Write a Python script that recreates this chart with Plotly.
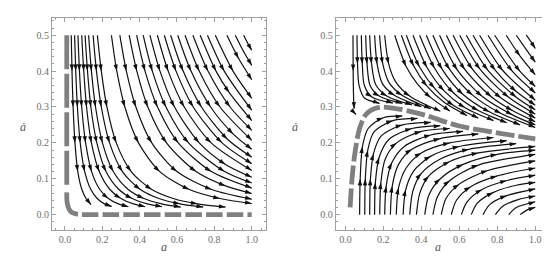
import math
import plotly.graph_objects as go

# ─── Daten: Stromlinien als Stützpunkte (a, ȧ), aus dem Bild geschätzt ─────────

# linkes Bild – dichte Gruppe links (fast senkrecht, endet unten)
LEFT_DENSE = [
    [(0.034, 0.5), (0.038, 0.4), (0.044, 0.3), (0.054, 0.2), (0.069, 0.12), (0.091, 0.07), (0.113, 0.045), (0.14, 0.028)],
    [(0.052, 0.5), (0.058, 0.4), (0.067, 0.3), (0.082, 0.2), (0.106, 0.12), (0.139, 0.07), (0.173, 0.045), (0.212, 0.03), (0.25, 0.023)],
    [(0.070, 0.5), (0.078, 0.4), (0.090, 0.3), (0.111, 0.2), (0.143, 0.12), (0.187, 0.07), (0.233, 0.045), (0.286, 0.03), (0.34, 0.022)],
    [(0.090, 0.5), (0.101, 0.4), (0.116, 0.3), (0.142, 0.2), (0.184, 0.12), (0.241, 0.07), (0.300, 0.045), (0.367, 0.03), (0.43, 0.022)],
    [(0.108, 0.5), (0.121, 0.4), (0.139, 0.3), (0.171, 0.2), (0.220, 0.12), (0.289, 0.07), (0.360, 0.045), (0.441, 0.03), (0.52, 0.022)],
    [(0.127, 0.5), (0.142, 0.4), (0.164, 0.3), (0.201, 0.2), (0.259, 0.12), (0.339, 0.07), (0.423, 0.045), (0.518, 0.03), (0.62, 0.021)],
    [(0.151, 0.5), (0.169, 0.4), (0.195, 0.3), (0.239, 0.2), (0.308, 0.12), (0.404, 0.07), (0.503, 0.045), (0.616, 0.03), (0.74, 0.021)],
    [(0.174, 0.5), (0.195, 0.4), (0.225, 0.3), (0.275, 0.2), (0.355, 0.12), (0.465, 0.07), (0.580, 0.045), (0.710, 0.03), (0.86, 0.021)],
]

# linkes Bild – Fächer, der am rechten Rand endet
LEFT_FAN = [
    [(0.249, 0.5), (0.278, 0.4), (0.321, 0.3), (0.394, 0.2), (0.508, 0.12), (0.666, 0.07), (0.830, 0.045), (1.0, 0.031)],
    [(0.294, 0.5), (0.329, 0.4), (0.380, 0.3), (0.465, 0.2), (0.600, 0.12), (0.786, 0.07), (1.0, 0.043)],
    [(0.344, 0.5), (0.385, 0.4), (0.444, 0.3), (0.544, 0.2), (0.702, 0.12), (0.860, 0.08), (1.0, 0.059)],
    [(0.384, 0.5), (0.429, 0.4), (0.496, 0.3), (0.607, 0.2), (0.784, 0.12), (1.0, 0.074)],
    [(0.419, 0.5), (0.468, 0.4), (0.541, 0.3), (0.662, 0.2), (0.855, 0.12), (1.0, 0.088)],
    [(0.455, 0.5), (0.509, 0.4), (0.587, 0.3), (0.719, 0.2), (0.860, 0.14), (1.0, 0.104)],
    [(0.495, 0.5), (0.553, 0.4), (0.639, 0.3), (0.783, 0.2), (1.0, 0.123)],
    [(0.532, 0.5), (0.595, 0.4), (0.687, 0.3), (0.841, 0.2), (1.0, 0.142)],
    [(0.566, 0.5), (0.633, 0.4), (0.731, 0.3), (0.870, 0.21), (1.0, 0.160)],
    [(0.604, 0.5), (0.675, 0.4), (0.780, 0.3), (0.900, 0.225), (1.0, 0.182)],
    [(0.643, 0.5), (0.719, 0.4), (0.830, 0.3), (1.0, 0.207)],
    [(0.685, 0.5), (0.766, 0.4), (0.884, 0.3), (1.0, 0.235)],
    [(0.724, 0.5), (0.809, 0.4), (0.880, 0.34), (1.0, 0.262)],
    [(0.763, 0.5), (0.853, 0.4), (1.0, 0.291)],
    [(0.805, 0.5), (0.900, 0.4), (1.0, 0.324)],
    [(0.867, 0.5), (0.930, 0.435), (1.0, 0.376)],
    [(0.912, 0.5), (0.955, 0.456), (1.0, 0.416)],
    [(0.957, 0.5), (0.978, 0.478), (1.0, 0.458)],
]

# linkes Bild – graue Separatrix (a = 0 abwärts, dann ȧ = 0 nach rechts)
LEFT_SEP_DOWN = [(0.01, 0.5), (0.01, 0.075)]
LEFT_SEP_BEND = [(0.01, 0.062), (0.014, 0.028), (0.032, 0.008), (0.07, 0.001)]
LEFT_SEP_RIGHT = [(0.091, 0.0), (1.0, 0.0)]

# rechtes Bild – Linien von oben
RIGHT_UPPER = [
    [(0.040, 0.5), (0.041, 0.4), (0.043, 0.33), (0.046, 0.295)],
    [(0.061, 0.5), (0.064, 0.420), (0.072, 0.360), (0.100, 0.325), (0.180, 0.310)],
    [(0.084, 0.5), (0.089, 0.420), (0.100, 0.360), (0.140, 0.328), (0.250, 0.311)],
    [(0.107, 0.5), (0.114, 0.420), (0.130, 0.360), (0.180, 0.330), (0.300, 0.310)],
    [(0.128, 0.5), (0.138, 0.420), (0.160, 0.362), (0.220, 0.330), (0.350, 0.306)],
    [(0.154, 0.5), (0.167, 0.420), (0.195, 0.365), (0.260, 0.332), (0.400, 0.301)],
    [(0.180, 0.5), (0.197, 0.420), (0.230, 0.368), (0.300, 0.332), (0.450, 0.295)],
    [(0.207, 0.5), (0.228, 0.420), (0.265, 0.370), (0.340, 0.330), (0.500, 0.288)],
    [(0.260, 0.5), (0.320, 0.413), (0.380, 0.364), (0.450, 0.326), (0.550, 0.289)],
    [(0.295, 0.5), (0.360, 0.414), (0.430, 0.358), (0.520, 0.313), (0.640, 0.276)],
    [(0.321, 0.5), (0.390, 0.412), (0.470, 0.352), (0.570, 0.304), (0.700, 0.269)],
    [(0.356, 0.5), (0.430, 0.410), (0.520, 0.345), (0.630, 0.298), (0.780, 0.262)],
    [(0.391, 0.5), (0.470, 0.408), (0.570, 0.339), (0.700, 0.290), (0.850, 0.256)],
    [(0.426, 0.5), (0.510, 0.405), (0.620, 0.335), (0.760, 0.286), (0.920, 0.250)],
    [(0.461, 0.5), (0.550, 0.404), (0.670, 0.333), (0.820, 0.282), (1.0, 0.243)],
    [(0.496, 0.5), (0.590, 0.403), (0.720, 0.330), (0.880, 0.278), (1.0, 0.250)],
    [(0.532, 0.5), (0.630, 0.404), (0.770, 0.328), (0.880, 0.290), (1.0, 0.259)],
    [(0.567, 0.5), (0.670, 0.405), (0.820, 0.325), (1.0, 0.269)],
    [(0.602, 0.5), (0.710, 0.405), (0.860, 0.327), (1.0, 0.280)],
    [(0.637, 0.5), (0.750, 0.403), (0.900, 0.327), (1.0, 0.292)],
    [(0.672, 0.5), (0.790, 0.402), (0.900, 0.343), (1.0, 0.305)],
    [(0.707, 0.5), (0.830, 0.401), (1.0, 0.319)],
    [(0.751, 0.5), (0.880, 0.399), (1.0, 0.339)],
    [(0.786, 0.5), (0.920, 0.399), (1.0, 0.357)],
    [(0.847, 0.5), (0.920, 0.442), (1.0, 0.390)],
    [(0.900, 0.5), (0.950, 0.462), (1.0, 0.425)],
    [(0.953, 0.5), (0.977, 0.482), (1.0, 0.463)],
]

# rechtes Bild – kleiner Haken am Sattel
RIGHT_HOOK = [[(0.035, 0.292), (0.045, 0.285), (0.056, 0.279)]]

# rechtes Bild – Linien von unten
RIGHT_LOWER = [
    [(0.075, 0.0), (0.078, 0.10), (0.090, 0.19), (0.120, 0.24), (0.200, 0.270), (0.300, 0.275)],
    [(0.102, 0.0), (0.105, 0.10), (0.118, 0.18), (0.150, 0.23), (0.250, 0.262), (0.380, 0.268)],
    [(0.128, 0.0), (0.132, 0.10), (0.148, 0.17), (0.190, 0.22), (0.300, 0.250), (0.450, 0.257)],
    [(0.154, 0.0), (0.158, 0.09), (0.178, 0.16), (0.230, 0.21), (0.350, 0.240), (0.500, 0.248)],
    [(0.181, 0.0), (0.187, 0.09), (0.210, 0.155), (0.270, 0.20), (0.400, 0.232), (0.550, 0.240)],
    [(0.207, 0.0), (0.215, 0.08), (0.245, 0.145), (0.310, 0.19), (0.450, 0.222), (0.620, 0.232)],
    [(0.237, 0.0), (0.247, 0.08), (0.280, 0.14), (0.350, 0.182), (0.500, 0.212), (0.700, 0.225)],
    [(0.268, 0.0), (0.280, 0.075), (0.320, 0.13), (0.400, 0.172), (0.550, 0.200), (0.780, 0.215)],
    [(0.304, 0.0), (0.318, 0.07), (0.360, 0.122), (0.450, 0.163), (0.600, 0.190), (0.850, 0.206)],
    [(0.339, 0.0), (0.355, 0.065), (0.400, 0.115), (0.500, 0.155), (0.650, 0.182), (0.900, 0.198)],
    [(0.374, 0.0), (0.392, 0.06), (0.440, 0.108), (0.550, 0.148), (0.700, 0.172), (1.0, 0.190)],
    [(0.418, 0.0), (0.440, 0.055), (0.500, 0.10), (0.620, 0.140), (0.800, 0.168), (1.0, 0.180)],
    [(0.461, 0.0), (0.485, 0.05), (0.550, 0.095), (0.700, 0.138), (1.0, 0.168)],
    [(0.505, 0.0), (0.530, 0.045), (0.600, 0.085), (0.750, 0.123), (1.0, 0.150)],
    [(0.558, 0.0), (0.585, 0.04), (0.660, 0.078), (0.800, 0.108), (1.0, 0.130)],
    [(0.611, 0.0), (0.640, 0.035), (0.720, 0.07), (0.850, 0.095), (1.0, 0.110)],
    [(0.663, 0.0), (0.695, 0.032), (0.780, 0.062), (0.900, 0.082), (1.0, 0.090)],
    [(0.725, 0.0), (0.760, 0.028), (0.850, 0.053), (1.0, 0.072)],
    [(0.790, 0.0), (0.830, 0.024), (0.910, 0.042), (1.0, 0.052)],
    [(0.860, 0.0), (0.900, 0.020), (1.0, 0.036)],
    [(0.920, 0.0), (0.960, 0.014), (1.0, 0.020)],
]

# rechtes Bild – graue Separatrix
RIGHT_SEP = [(0.025, 0.02), (0.035, 0.10), (0.050, 0.17), (0.075, 0.24), (0.110, 0.28),
             (0.170, 0.298), (0.250, 0.297), (0.400, 0.280), (0.600, 0.247),
             (0.800, 0.228), (1.0, 0.211)]

X_TICKS = [0.0, 0.2, 0.4, 0.6, 0.8, 1.0]
Y_TICKS = [0.0, 0.1, 0.2, 0.3, 0.4, 0.5]

# ─── Layout (Pixel) ──────────────────────────────────────────────────────────

W, H = 550, 261
TOP_PX, BOTTOM_PX = 10, 221.7
LEFT_PX = (44, 258.3)
RIGHT_PX = (327.7, 541.7)
LEFT_XRANGE = [-0.069, 1.078]
RIGHT_XRANGE = [-0.051, 1.076]
Y_RANGE = [-0.042, 0.548]

FRAME = "#a0a0a0"
SERIF = "Liberation Serif, Times New Roman, DejaVu Serif, serif"
TICKFONT = dict(family=SERIF, size=10, color="#6e6e6e")
GRAY = "#808080"
INK = "#111111"

SY = (BOTTOM_PX - TOP_PX) / (Y_RANGE[1] - Y_RANGE[0])


def px_scale(dom, rng):
    return (dom[1] - dom[0]) / (rng[1] - rng[0])


def join(lines):
    xs, ys = [], []
    for ln in lines:
        xs += [p[0] for p in ln] + [None]
        ys += [p[1] for p in ln] + [None]
    return xs, ys


def arrows(lines, sx, min_gap=24):
    """Pfeilspitzen an den Stützpunkten, Richtung aus den Nachbarn."""
    ax, ay, ang = [], [], []
    for ln in lines:
        last = ln[0]
        for i in range(1, len(ln)):
            p = ln[i]
            is_end = i == len(ln) - 1
            d_prev = math.hypot((p[0] - last[0]) * sx, (p[1] - last[1]) * SY)
            d_end = math.hypot((ln[-1][0] - p[0]) * sx, (ln[-1][1] - p[1]) * SY)
            if not is_end and (d_prev < min_gap or d_end < 18):
                continue
            q0 = ln[i - 1]
            q1 = ln[i] if is_end else ln[i + 1]
            dx = (q1[0] - q0[0]) * sx
            dy = (q1[1] - q0[1]) * SY
            ax.append(p[0])
            ay.append(p[1])
            ang.append(math.degrees(math.atan2(dx, dy)))
            last = p
    return ax, ay, ang


fig = go.Figure()


def add_panel(streams, seps, xa, ya, sx):
    for pts, dash in seps:
        xs, ys = join([pts])
        fig.add_trace(go.Scatter(
            x=xs, y=ys, mode="lines", xaxis=xa, yaxis=ya,
            line=dict(color=GRAY, width=4.8, dash=dash, shape="spline"),
            hoverinfo="skip", showlegend=False,
        ))
    xs, ys = join(streams)
    fig.add_trace(go.Scatter(
        x=xs, y=ys, mode="lines", xaxis=xa, yaxis=ya,
        line=dict(color=INK, width=1.2, shape="spline", smoothing=0.8),
        hoverinfo="skip", showlegend=False,
    ))
    ax, ay, ang = arrows(streams, sx)
    fig.add_trace(go.Scatter(
        x=ax, y=ay, mode="markers", xaxis=xa, yaxis=ya,
        marker=dict(symbol="arrow", size=7, angle=ang, color=INK,
                    line=dict(width=0)),
        hoverinfo="skip", showlegend=False,
    ))


sx_l = px_scale(LEFT_PX, LEFT_XRANGE)
sx_r = px_scale(RIGHT_PX, RIGHT_XRANGE)

add_panel(LEFT_DENSE + LEFT_FAN,
          [(LEFT_SEP_DOWN, "34px,4.5px"), (LEFT_SEP_BEND, "solid"),
           (LEFT_SEP_RIGHT, "16.5px,4.2px")],
          "x", "y", sx_l)
add_panel(RIGHT_UPPER + RIGHT_HOOK + RIGHT_LOWER,
          [(RIGHT_SEP, "19px,4px")],
          "x2", "y2", sx_r)

y_dom = [1 - BOTTOM_PX / H, 1 - TOP_PX / H]


def xaxis(dom, rng):
    return dict(
        domain=[dom[0] / W, dom[1] / W], range=rng,
        tickvals=X_TICKS, ticktext=[f"{v:.1f}" for v in X_TICKS],
        ticks="inside", ticklen=4, tickwidth=1, tickcolor=FRAME,
        minor=dict(ticks="inside", ticklen=2, dtick=0.05, tick0=0, tickcolor=FRAME, showgrid=False),
        showline=True, linecolor=FRAME, linewidth=1, mirror="allticks",
        showgrid=False, zeroline=False, tickfont=TICKFONT, fixedrange=True,
    )


def yaxis(anchor):
    return dict(
        domain=y_dom, range=Y_RANGE, anchor=anchor,
        tickvals=Y_TICKS, ticktext=[f"{v:.1f}" for v in Y_TICKS],
        ticks="inside", ticklen=4, tickwidth=1, tickcolor=FRAME,
        minor=dict(ticks="inside", ticklen=2, dtick=0.02, tick0=0, tickcolor=FRAME, showgrid=False),
        showline=True, linecolor=FRAME, linewidth=1, mirror="allticks",
        showgrid=False, zeroline=False, tickfont=TICKFONT, fixedrange=True,
    )


label_font = dict(family=SERIF, size=12, color="#555555")
annotations = []
for dom in (LEFT_PX, RIGHT_PX):
    annotations.append(dict(text="<i>a</i>", x=(dom[0] + dom[1]) / 2 / W, y=1 - 248 / H,
                            xref="paper", yref="paper", showarrow=False, font=label_font))
for xp in (10, 287):
    annotations.append(dict(text="<i>ȧ</i>", x=xp / W, y=1 - 119 / H,
                            xref="paper", yref="paper", showarrow=False, font=label_font))

fig.update_layout(
    width=W, height=H,
    margin=dict(l=0, r=0, t=0, b=0),
    paper_bgcolor="white", plot_bgcolor="white",
    xaxis=xaxis(LEFT_PX, LEFT_XRANGE), yaxis=yaxis("x"),
    xaxis2=xaxis(RIGHT_PX, RIGHT_XRANGE), yaxis2=yaxis("x2"),
    annotations=annotations,
    showlegend=False,
)

fig.write_html("out.html")
